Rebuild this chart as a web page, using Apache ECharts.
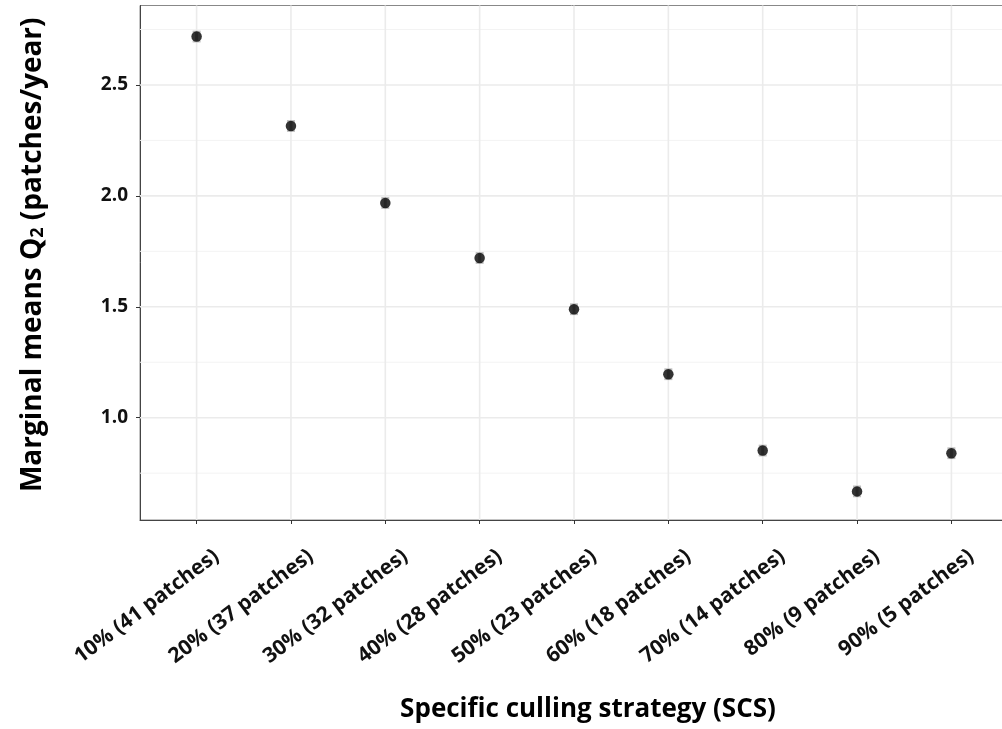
<!DOCTYPE html>
<html><head><meta charset="utf-8">
<script src="https://cdn.jsdelivr.net/npm/echarts@6/dist/echarts.min.js"></script>
<style>html,body{margin:0;padding:0;background:#fff}#c{width:1002px;height:729px}</style>
</head><body><div id="c"></div>
<script>
const categories = ['10% (41 patches)','20% (37 patches)','30% (32 patches)','40% (28 patches)','50% (23 patches)','60% (18 patches)','70% (14 patches)','80% (9 patches)','90% (5 patches)'];
const means = [2.718, 2.315, 1.968, 1.720, 1.489, 1.196, 0.852, 0.668, 0.840];
const lower = [2.696, 2.293, 1.946, 1.698, 1.467, 1.174, 0.830, 0.646, 0.818];
const upper = [2.740, 2.337, 1.990, 1.742, 1.511, 1.218, 0.874, 0.690, 0.862];
const yTicks = [1.0, 1.5, 2.0, 2.5];
const yMinor = [0.75, 1.25, 1.75, 2.25, 2.75];
const xPos = [1, 2, 3, 4, 5, 6, 7, 8, 9];

const FONT = 'Open Sans';
const X_MIN = 0.4, X_MAX = 9.6, Y_MIN = 0.539, Y_MAX = 2.858;

function hLines(color, width) {
  return function (params, api) {
    const v = api.value(0);
    const a = api.coord([X_MIN, v]), b = api.coord([X_MAX, v]);
    return {type: 'line', shape: {x1: a[0], y1: a[1], x2: b[0], y2: b[1]}, style: {stroke: color, lineWidth: width}};
  };
}
function vLines(params, api) {
  const v = api.value(0);
  const a = api.coord([v, Y_MIN]), b = api.coord([v, Y_MAX]);
  return {type: 'line', shape: {x1: a[0], y1: a[1], x2: b[0], y2: b[1]}, style: {stroke: '#ebebeb', lineWidth: 1.6}};
}

const chart = echarts.init(document.getElementById('c'), null, {renderer: 'canvas'});
chart.setOption({
  animation: false,
  backgroundColor: '#fff',
  grid: {left: 140, top: 5.5, width: 868, height: 514.5, show: true, borderColor: '#888', borderWidth: 1,
    containLabel: false, outerBoundsMode: 'none'},
  xAxis: {
    type: 'value', min: X_MIN, max: X_MAX,
    name: 'Specific culling strategy (SCS)', nameLocation: 'middle', nameGap: 177,
    nameTextStyle: {fontFamily: FONT, fontWeight: 'bold', fontSize: 26, color: '#000', padding: [0, 0, 0, 28]},
    axisLine: {show: true, onZero: false, lineStyle: {color: '#444', width: 1}},
    axisTick: {show: true, customValues: xPos, length: 4, lineStyle: {color: '#333'}},
    splitLine: {show: false},
    axisLabel: {show: false}
  },
  yAxis: {
    type: 'value', min: Y_MIN, max: Y_MAX,
    name: 'Marginal means Q{sub|2} (patches/year)', nameLocation: 'middle', nameGap: 93,
    nameTextStyle: {fontFamily: FONT, fontWeight: 'bold', fontSize: 28, color: '#000', padding: [0, 0, 0, 16],
      rich: {sub: {fontFamily: FONT, fontWeight: 'bold', fontSize: 18, color: '#000', padding: [10, 0, 0, 0]}}},
    axisLine: {show: true, lineStyle: {color: '#444', width: 1}},
    axisTick: {show: true, customValues: yTicks, length: 4, lineStyle: {color: '#333'}},
    splitLine: {show: false},
    axisLabel: {customValues: yTicks, margin: 12, formatter: v => v.toFixed(1),
      fontFamily: FONT, fontWeight: 'bold', fontSize: 19, color: '#111'}
  },
  series: [
    {type: 'custom', z: 1, silent: true, renderItem: hLines('#f3f3f3', 1), data: yMinor.map(v => [v]), encode: {x: -1, y: 0}},
    {type: 'custom', z: 1, silent: true, renderItem: hLines('#ebebeb', 1.6), data: yTicks.map(v => [v]), encode: {x: -1, y: 0}},
    {type: 'custom', z: 1, silent: true, renderItem: vLines, data: xPos.map(v => [v]), encode: {x: 0, y: -1}},
    {
      type: 'custom', z: 2, silent: true,
      data: xPos.map((x, i) => [x, lower[i], upper[i]]),
      encode: {x: 0, y: [1, 2]},
      renderItem: function (params, api) {
        const x = api.value(0);
        const lo = api.coord([x, api.value(1)]), hi = api.coord([x, api.value(2)]);
        const hw = 4;
        return {type: 'group', children: [
          {type: 'line', shape: {x1: lo[0], y1: lo[1], x2: hi[0], y2: hi[1]}, style: {stroke: '#bdbdbd', lineWidth: 3}},
          {type: 'line', shape: {x1: lo[0] - hw, y1: lo[1], x2: lo[0] + hw, y2: lo[1]}, style: {stroke: '#bdbdbd', lineWidth: 2}},
          {type: 'line', shape: {x1: hi[0] - hw, y1: hi[1], x2: hi[0] + hw, y2: hi[1]}, style: {stroke: '#bdbdbd', lineWidth: 2}}
        ]};
      }
    },
    {type: 'scatter', z: 3, symbol: 'circle', symbolSize: 10.5, itemStyle: {color: '#000'},
      data: xPos.map((x, i) => [x, means[i]])},
    {
      type: 'custom', z: 4, silent: true, clip: false,
      data: xPos.map(x => [x]), encode: {x: 0, y: -1},
      renderItem: function (params, api) {
        const p = api.coord([api.value(0), Y_MIN]);
        return {type: 'text', x: p[0] + 20, y: p[1] + 34, rotation: 37 * Math.PI / 180,
          style: {text: categories[params.dataIndex], align: 'right', verticalAlign: 'middle',
            fontFamily: FONT, fontWeight: 'bold', fontSize: 21, fill: '#111'}};
      }
    }
  ]
});
</script></body></html>
